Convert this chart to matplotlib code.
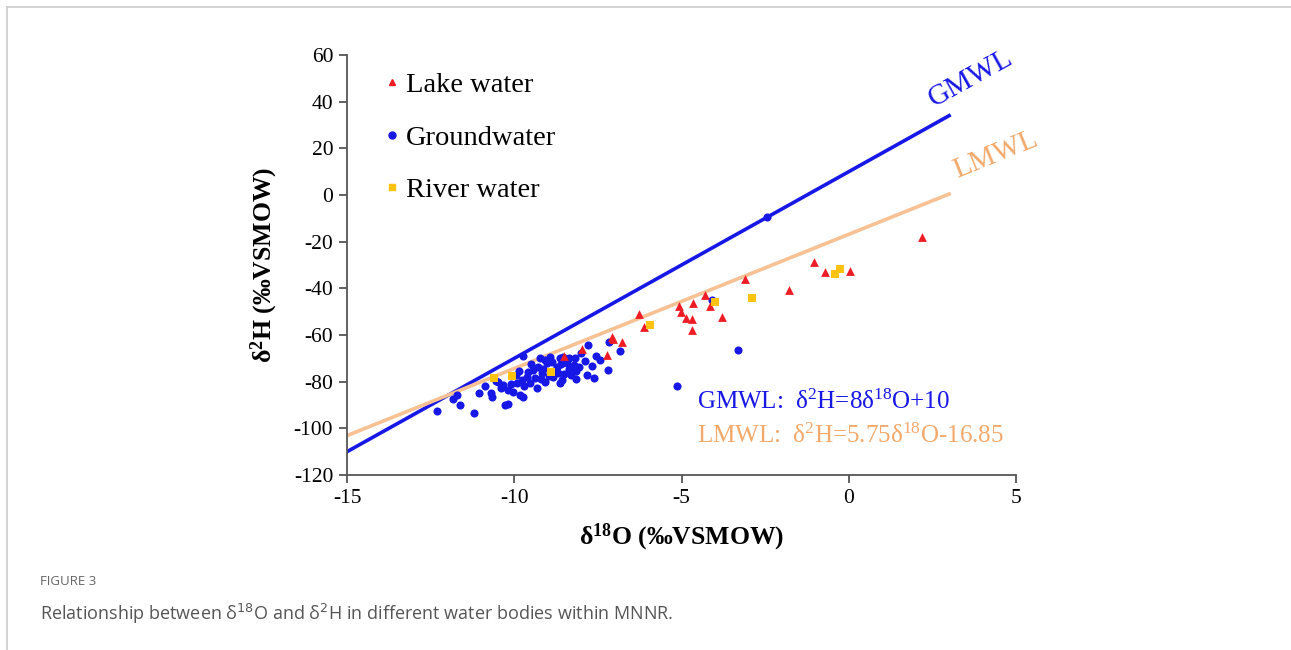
import matplotlib.pyplot as plt
from matplotlib.lines import Line2D
import numpy as np

plt.rcParams['font.family'] = ['Liberation Serif', 'DejaVu Serif']
plt.rcParams['mathtext.fontset'] = 'custom'
plt.rcParams['mathtext.rm'] = 'Liberation Serif'
plt.rcParams['mathtext.it'] = 'Liberation Serif:italic'
plt.rcParams['mathtext.bf'] = 'Liberation Serif:bold'
plt.rcParams['axes.unicode_minus'] = False

# lake water samples (d18O, d2H)
lake_x = [2.2, -1.05, -0.7, 0.05, -1.8, -3.1, -3.8, -4.15, -4.3, -4.66, -4.69, -4.69,
          -4.87, -5.02, -5.07, -6.12, -6.27, -6.78, -7.08, -7.05, -7.23, -7.97, -8.51]
lake_y = [-18, -28.5, -33, -32.5, -40.5, -36, -52.3, -47.6, -43, -46.3, -53.1, -57.9,
          -52.7, -50, -47.6, -56.6, -51, -63, -60.9, -61.5, -68.4, -66, -68.8]

# groundwater samples
ground_x = [-2.45, -3.3, -5.15, -4.1, -7.17, -6.84, -7.2, -7.8, -7.56, -7.68, -7.82, -7.62,
            -8.15, -8.63, -8.18, -8.54, -8.36, -8.22, -8.05, -8.5, -8.3, -8.14, -8.6, -8.35,
            -12.31, -11.83, -11.71, -11.62, -11.2, -11.05, -10.87, -10.7, -10.66, -10.28,
            -10.49, -10.34, -10.19, -10.04, -9.83, -9.74, -9.92, -9.77, -9.62, -9.53, -9.38,
            -9.44, -9.29, -9.17, -9.08, -9.02, -8.87, -8.72, -8.69, -8.84, -8.57, -9.08,
            -9.23, -8.93, -8.63, -8.42, -9.32, -9.75, -10.2, -10.55, -9.95, -9.6, -9.15,
            -8.95, -8.75, -9.5, -9.85, -10.1, -7.45, -8.0, -7.9, -9.7, -10.4, -9.2]
ground_y = [-9.5, -66.5, -82, -45, -63.2, -67, -74.8, -64.3, -69, -73.3, -77.2, -78.4,
            -78.9, -80.6, -70, -69.5, -69.8, -72.8, -73.5, -76.5, -77, -75.5, -72.5, -74.5,
            -92.6, -87.4, -85.7, -90, -93.4, -84.9, -81.9, -84.9, -86.6, -90,
            -80.2, -81.4, -83.6, -84.4, -85.7, -86.6, -80.6, -79.3, -78, -80.6, -78.4,
            -75, -73.7, -76.3, -80.2, -72, -71.6, -73.7, -76.3, -78, -79.3, -70.7,
            -69.9, -69.4, -69.9, -72, -82.7, -69, -89.6, -79.5, -77, -76, -74.5,
            -77.5, -75.2, -72.5, -75.5, -80.8, -70.5, -67.5, -71, -82, -82.5, -78.8]

# river water samples
river_x = [-10.6, -10.07, -8.9, -5.95, -4.0, -2.9, -0.4, -0.25]
river_y = [-78.4, -77.6, -75.9, -55.5, -46, -44, -34, -31.5]

# meteoric water lines: slope, intercept
gmwl = (8.0, 10.0)
lmwl = (5.75, -16.85)
line_x = [-15, 3]

blue = '#1717e6'
red = '#ee1c25'
gold = '#ffc20e'
orange_line = '#f7c193'
orange_text = '#f2a96b'

fig = plt.figure(figsize=(12.91, 6.5), dpi=100)
ax = fig.add_axes([0.2688, 0.2692, 0.5182, 0.6462])

lx = np.array(line_x)
ax.plot(lx, gmwl[0] * lx + gmwl[1], color=blue, lw=2.6, zorder=2)
ax.plot(lx, lmwl[0] * lx + lmwl[1], color=orange_line, lw=2.6, zorder=2)

ax.scatter(ground_x, ground_y, marker='o', s=34, color=blue, lw=0, zorder=3, label='Groundwater')
ax.scatter(lake_x, lake_y, marker='^', s=40, color=red, lw=0, zorder=4, label='Lake water')
ax.scatter(river_x, river_y, marker='s', s=34, color=gold, lw=0, zorder=4, label='River water')

ax.set_xlim(-15, 5)
ax.set_ylim(-120, 60)
ax.set_xticks([-15, -10, -5, 0, 5])
ax.set_yticks(np.arange(-120, 61, 20))
for s in ['top', 'right']:
    ax.spines[s].set_visible(False)
for s in ['left', 'bottom']:
    ax.spines[s].set_color('#555555')
    ax.spines[s].set_linewidth(1.3)
ax.tick_params(direction='out', length=6, width=1.3, color='#555555', labelsize=15.5, pad=4)

ax.set_xlabel('δ$^{\\mathbf{18}}$O (‰VSMOW)', fontsize=18.5, fontweight='bold', labelpad=10)
ax.set_ylabel('δ$^{\\mathbf{2}}$H (‰VSMOW)', fontsize=18.5, fontweight='bold', labelpad=10)

handles = [
    Line2D([], [], ls='', marker='^', color=red, markersize=5),
    Line2D([], [], ls='', marker='o', color=blue, markersize=5),
    Line2D([], [], ls='', marker='s', color=gold, markersize=5),
]
ax.legend(handles, ['Lake water', 'Groundwater', 'River water'], loc='upper left',
          bbox_to_anchor=(0.007, 1.02), frameon=False, fontsize=20.5, labelspacing=0.93,
          handletextpad=0.0, handlelength=1.0)

ax.text(-4.55, -88.7, 'GMWL:  δ$^{2}$H=8δ$^{18}$O+10', color=blue, fontsize=18, va='center')
ax.text(-4.55, -103.3, 'LMWL:  δ$^{2}$H=5.75δ$^{18}$O-16.85', color=orange_text, fontsize=18, va='center')

ax.text(3.65, 50, 'GMWL', color=blue, fontsize=21, rotation=29, ha='center', va='center')
ax.text(4.4, 17, 'LMWL', color=orange_text, fontsize=21, rotation=22, ha='center', va='center')

# page frame and caption
fig.add_artist(Line2D([0.0054, 0.0054], [0, 0.989], color='#cccccc', lw=1.2))
fig.add_artist(Line2D([0.0054, 1], [0.989, 0.989], color='#cccccc', lw=1.2))
fig.text(0.031, 0.106, 'FIGURE 3', fontsize=9.5, color='#666666', family=['Open Sans', 'DejaVu Sans'],
         va='center')
fig.text(0.031, 0.055, 'Relationship between δ$^{18}$O and δ$^{2}$H in different water bodies within MNNR.',
         fontsize=13, color='#555555', family=['Open Sans', 'DejaVu Sans'], va='center',
         math_fontfamily='dejavusans')

fig.savefig('out.png', dpi=100)
